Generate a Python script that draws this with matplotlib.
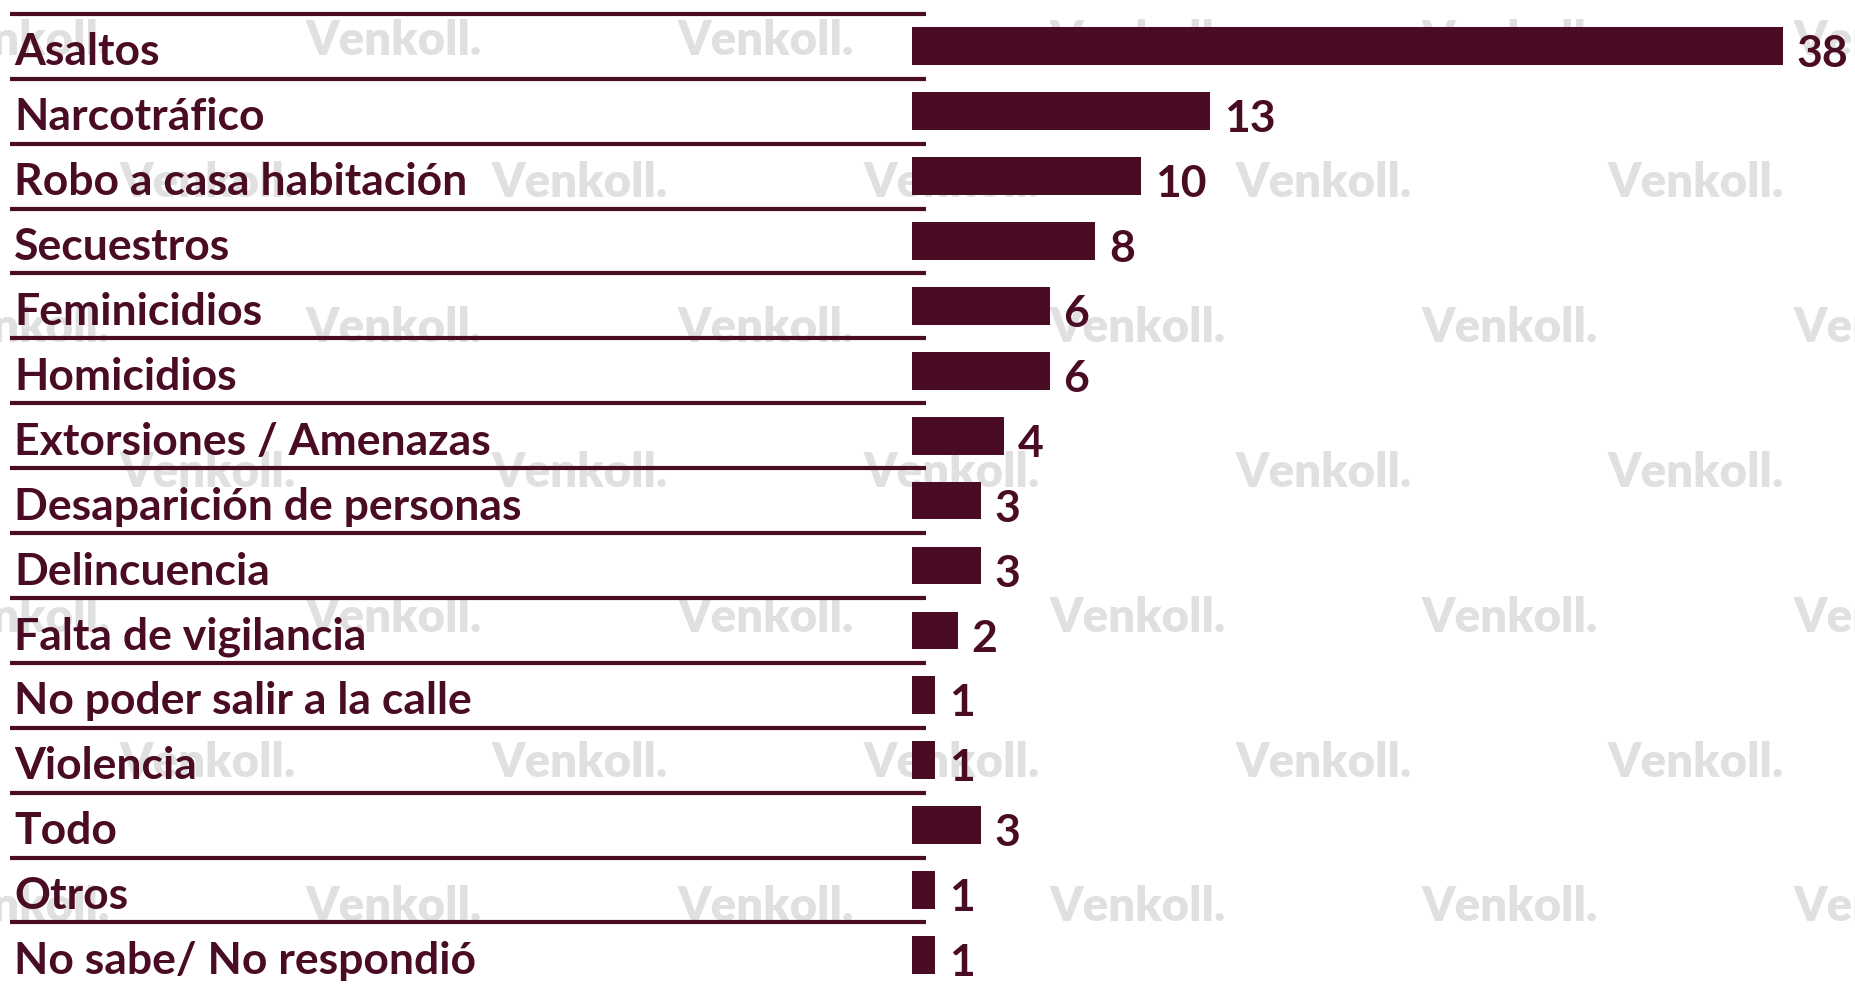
import matplotlib
matplotlib.use("Agg")
import matplotlib.pyplot as plt
from matplotlib.transforms import blended_transform_factory

# Data
categories = [
    "Asaltos", "Narcotráfico", "Robo a casa habitación", "Secuestros",
    "Feminicidios", "Homicidios", "Extorsiones / Amenazas",
    "Desaparición de personas", "Delincuencia", "Falta de vigilancia",
    "No poder salir a la calle", "Violencia", "Todo", "Otros",
    "No sabe/ No respondió",
]
values = [38, 13, 10, 8, 6, 6, 4, 3, 3, 2, 1, 1, 3, 1, 1]

color = "#4a0b24"
font = ["Lato", "DejaVu Sans"]

W, H = 1855, 987
fig = plt.figure(figsize=(W / 100, H / 100), dpi=100)
fig.patch.set_facecolor("white")

# watermark layer
bg = fig.add_axes([0, 0, 1, 1], zorder=0)
bg.set_xlim(0, W)
bg.set_ylim(H, 0)
bg.axis("off")
rows_y = [41, 183, 328, 473, 618, 763, 907]
for r, yy in enumerate(rows_y):
    start = 22 if r % 2 == 0 else 208
    x = start
    while x < W + 200:
        bg.text(x, yy, "Venkoll.", color="#e0e0e0", fontsize=34,
                fontweight="heavy", family=font, ha="center", va="center")
        x += 372

# bar axes
left_px = 912
px_per_unit = 22.92
ax = fig.add_axes([left_px / W, 0, 1 - left_px / W, 1], zorder=1)
ax.patch.set_alpha(0)
first_c, step = 47.3, 64.9
ax.set_xlim(0, (W - left_px) / px_per_unit)
ax.set_ylim((H - first_c) / step, -first_c / step)
ax.axis("off")

ypos = list(range(len(categories)))
ax.barh(ypos, values, height=0.58, color=color)

for y, v in zip(ypos, values):
    ax.text(v + 0.6, y + 0.31, str(v), color=color, fontsize=32,
            fontweight="bold", family=font, ha="left", va="baseline",
            clip_on=False)

# category labels and separators
tr = blended_transform_factory(fig.transFigure, ax.transData)
for y, cat in zip(ypos, categories):
    ax.text(14 / W, y + 0.28, cat, transform=tr, color=color, fontsize=32,
            fontweight="bold", family=font, ha="left", va="baseline")
    ax.plot([9.5 / W, 926 / W], [y - 0.5, y - 0.5], transform=tr,
            color=color, lw=3, clip_on=False, solid_capstyle="butt")

fig.savefig("out.png", dpi=100, facecolor="white")
